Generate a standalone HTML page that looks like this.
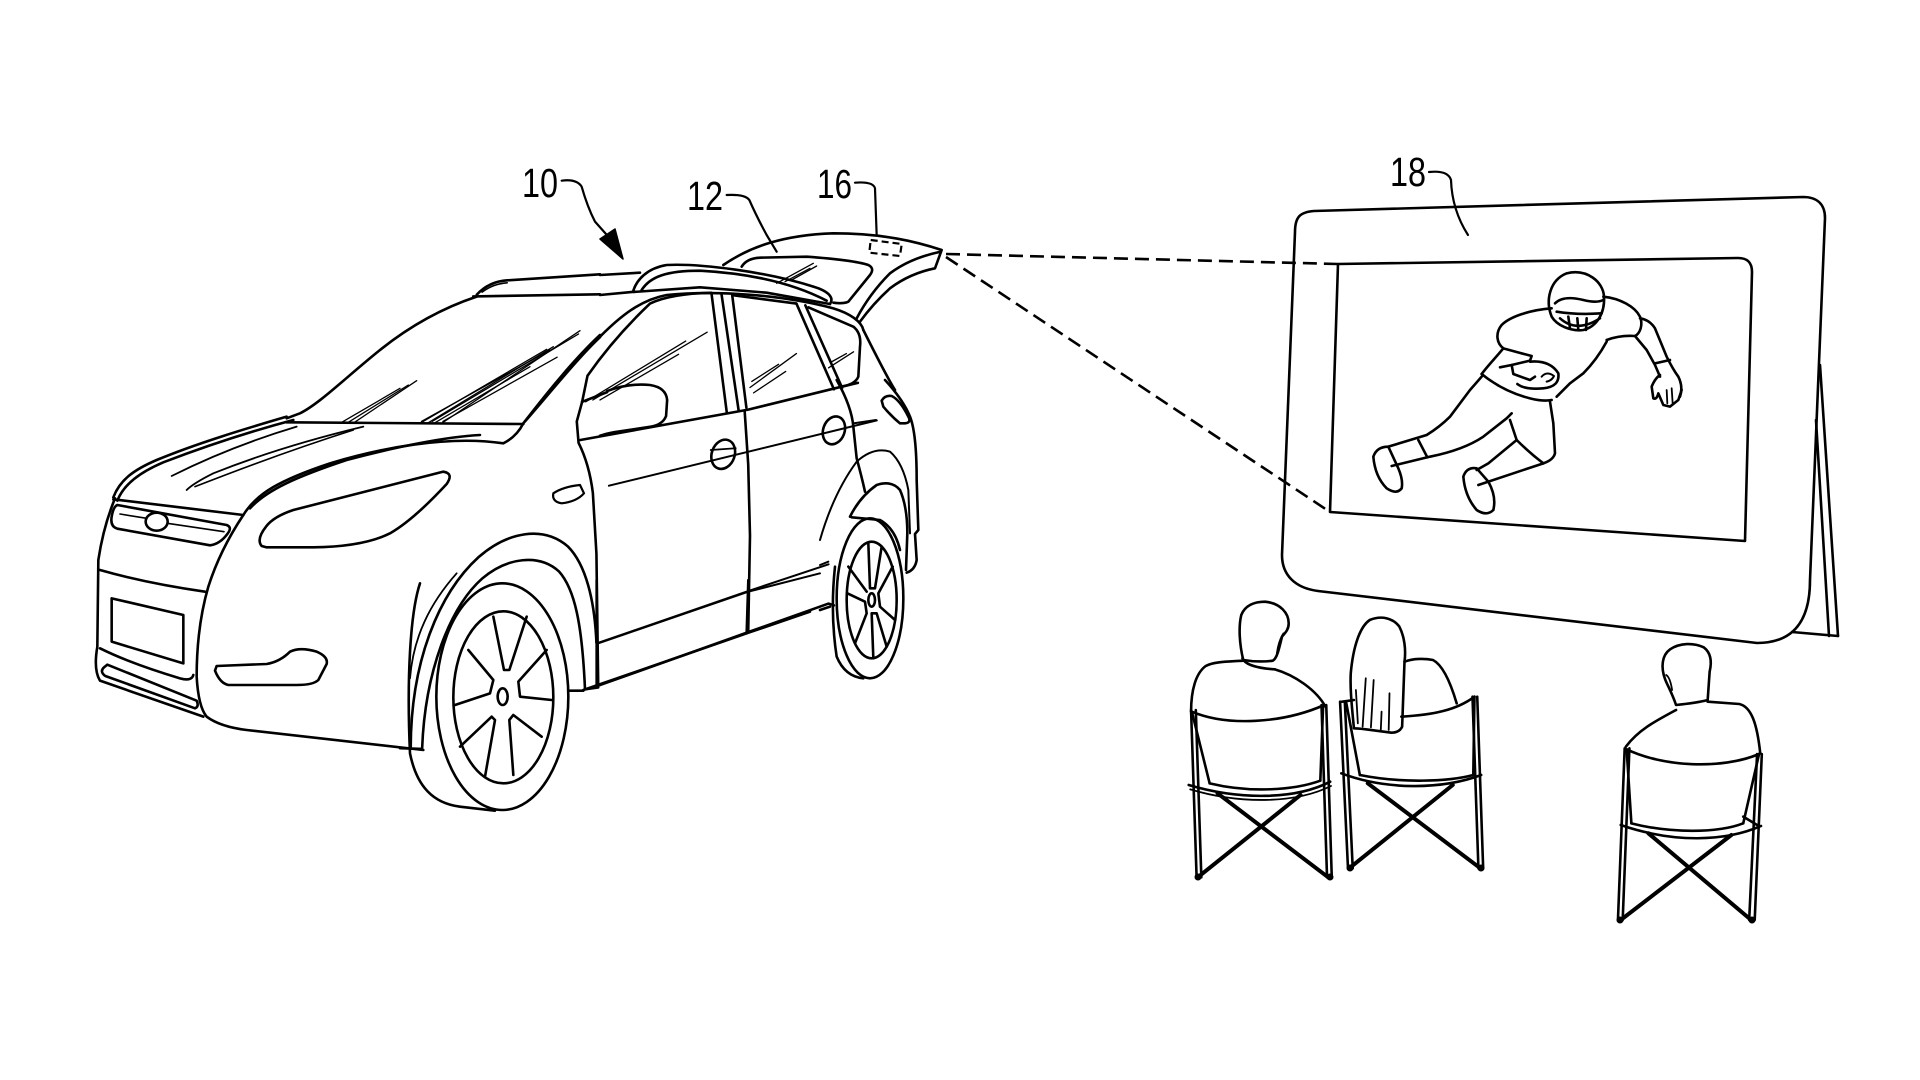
<!DOCTYPE html>
<html><head><meta charset="utf-8"><style>
html,body{margin:0;padding:0;background:#fff;width:1920px;height:1080px;overflow:hidden}
svg{display:block}
path,ellipse,line,polygon,circle,rect{vector-effect:non-scaling-stroke}
text{font-family:"Liberation Sans",sans-serif;fill:#000}
</style></head><body>
<svg width="1920" height="1080" viewBox="0 0 1920 1080" xmlns="http://www.w3.org/2000/svg" fill="none" stroke="#000" stroke-linecap="round" stroke-linejoin="round">

<!-- labels -->
<text x="522" y="197" font-size="41" textLength="36" lengthAdjust="spacingAndGlyphs" stroke="none">10</text>
<text x="687" y="210" font-size="41" textLength="36" lengthAdjust="spacingAndGlyphs" stroke="none">12</text>
<text x="817" y="198" font-size="41" textLength="35" lengthAdjust="spacingAndGlyphs" stroke="none">16</text>
<text x="1390" y="186" font-size="41" textLength="36" lengthAdjust="spacingAndGlyphs" stroke="none">18</text>

<!-- leaders (zoom2 frame) -->
<g transform="translate(480,140) scale(0.33333)" stroke-width="2.2">
  <path d="M245,122 Q290,116 305,140 Q322,200 345,245 L385,290"/>
  <path d="M740,165 Q795,162 808,180 Q830,230 860,285 L890,335"/>
  <path d="M1125,128 Q1180,124 1185,145 L1190,285"/>
</g>
<polygon points="600,239 623,259 615,229" fill="#000" stroke="#000" stroke-width="1.5"/>
<path d="M1429,172 Q1448,170 1451,180 Q1452,210 1468,235" stroke-width="2.2"/>

<!-- dashed projection -->
<g stroke-width="2.6" stroke-dasharray="14 7" stroke-linecap="butt">
  <path d="M946,254 L1338,264"/>
  <path d="M946,257 L1330,512"/>
  <path d="M870.7,240 L901.7,244 L900,256 L869.3,252.7 Z" stroke-width="2.2" stroke-dasharray="7 4"/>
</g>

<!-- ============ CAR FRONT (zoom3 frame) ============ -->
<g transform="translate(80,260) scale(0.33333)" stroke-width="2.6">
  <path d="M1190,110 C1100,140 1000,190 900,270 C800,350 720,430 660,460 L620,475"/>
  <path d="M620,470 C500,505 350,550 230,600 C160,630 120,660 100,712"/>
  <path d="M640,480 C520,512 380,557 250,607 C180,637 132,672 112,722"/>
  <path d="M620,487 L1330,492"/>
  <path d="M1330,490 C1400,400 1480,300 1560,225"/>
  <path d="M275,648 Q450,560 650,500" stroke-width="1.8"/>
  <path d="M320,690 Q340,670 400,640 Q600,560 850,500" stroke-width="1.8"/>
  <path d="M345,680 Q600,580 820,510" stroke-width="1.6"/>
  <path d="M490,765 C530,700 600,660 750,610 C900,565 1100,525 1270,550 Q1310,530 1330,490"/>
  <path d="M510,745 C560,690 650,650 800,600 C950,560 1100,530 1200,525"/>
  <path d="M100,718 L490,765"/>
  <path d="M545,858 Q528,838 558,800 Q580,770 640,750 L1090,635 Q1122,640 1100,672 Q1000,780 930,820 Q850,860 700,862 L560,862 Z"/>
  <path d="M112,735 L440,795 Q458,802 442,822 Q420,852 390,856 L112,806 Q90,800 95,770 Q100,740 112,735 Z"/>
  <path d="M120,762 L200,775" stroke-width="1.6"/>
  <path d="M262,790 L432,815" stroke-width="1.6"/>
  <ellipse cx="230" cy="785" rx="33" ry="27"/>
  <path d="M105,715 Q70,800 55,900 L52,1160 Q40,1230 60,1262 L370,1370"/>
  <path d="M490,765 Q420,870 385,980 Q350,1100 350,1250 Q355,1340 380,1370 Q420,1400 500,1410 L1030,1470"/>
  <path d="M60,930 Q200,970 375,995"/>
  <path d="M95,1015 L310,1065 L310,1210 L95,1145 Z"/>
  <path d="M60,1165 Q150,1210 300,1255 Q335,1265 340,1245"/>
  <path d="M72,1222 Q58,1235 76,1248 L345,1345 Q358,1340 350,1322 L82,1214 Z"/>
  <path d="M410,1218 L560,1212 Q600,1205 630,1175 Q660,1160 710,1175 Q745,1190 740,1212 L715,1260 Q700,1275 650,1275 L445,1275 Q420,1270 405,1232 Z"/>
  <path d="M1420,700 Q1450,680 1500,675 L1512,700 Q1490,725 1445,730 Q1415,725 1420,700 Z" stroke-width="2.2"/>
  <g stroke-width="1.3">
    <path d="M780,490 L960,385"/><path d="M800,490 L985,375"/><path d="M822,488 L1010,362"/>
    <path d="M1020,490 L1400,268"/><path d="M1042,490 L1420,260"/><path d="M1062,490 L1350,320"/><path d="M1082,492 L1500,212"/>
  </g>
  <path d="M990,1255 C1000,1130 1050,1030 1130,940" stroke-width="1.8"/>
</g>

<!-- ============ CAR SIDE (zoom4 frame) ============ -->
<g transform="translate(400,250) scale(0.35714)" stroke-width="2.6">
  <path d="M205,130 L560,124"/>
  <path d="M215,125 Q250,88 300,85 L560,68"/>
  <path d="M230,118 Q260,95 300,92" stroke-width="1.6"/>
  <path d="M350,480 C420,400 500,300 560,244"/>
  <path d="M510,425 L525,352 Q600,245 700,150 Q760,122 870,120"/>
  <path d="M872,120 L915,455"/>
  <path d="M900,122 L948,448"/>
  <path d="M930,125 L970,442"/>
  <path d="M935,127 L1110,150"/>
  <path d="M1110,150 L1215,390"/>
  <path d="M1135,155 L1238,386"/>
  <path d="M505,532 L975,447 L1215,388 L1282,372"/>
  <path d="M580,395 Q640,372 700,378 Q745,385 748,420 L745,465 Q735,490 700,495 L600,510 Q575,515 560,520"/>
  <path d="M510,425 L580,398"/>
  <path d="M510,425 L495,480 L500,540 Q530,600 540,680 L550,850 L555,1220"/>
  <path d="M965,450 L975,600 L980,800 L975,1070"/>
  <ellipse cx="905" cy="572" rx="32" ry="42" transform="rotate(20 905 572)"/>
  <path d="M870,560 L940,555" stroke-width="1.8"/>
  <ellipse cx="1215" cy="505" rx="30" ry="40" transform="rotate(20 1215 505)"/>
  <path d="M585,660 L1335,477" stroke-width="2"/>
  <path d="M555,1100 L975,955 L1200,880" stroke-width="2"/>
  <path d="M555,1220 L975,1070 L1200,990 L1215,995"/>
  <path d="M30,1395 C30,1150 110,960 220,860 C300,790 400,770 470,830 C520,880 545,980 550,1100"/>
  <path d="M62,1395 C70,1180 140,1000 230,920 C300,860 390,850 445,900 C490,950 510,1050 518,1230 L555,1225"/>
  <path d="M0,1395 L62,1397"/>
  <g stroke-width="1.3">
    <path d="M60,480 L420,280"/><path d="M90,480 L500,235"/><path d="M120,480 L440,300"/>
    <path d="M520,425 L800,255"/><path d="M540,420 L860,230"/><path d="M560,420 L780,292"/>
    <path d="M980,385 L1110,290"/><path d="M985,368 L1060,320"/><path d="M990,400 L1080,340"/>
    <path d="M1200,330 L1270,285"/><path d="M1205,315 L1250,290"/>
  </g>
</g>

<!-- ============ ROOF / TAILGATE (zoom8 frame) ============ -->
<g transform="translate(600,230) scale(0.33333)" stroke-width="2.6">
  <path d="M0,135 L120,128"/>
  <path d="M0,195 L105,185"/>
  <path d="M100,182 C110,150 140,115 200,105 C300,100 500,125 640,170 C690,185 702,205 690,222"/>
  <path d="M125,180 C150,140 200,122 300,122 C450,130 580,160 680,212"/>
  <path d="M100,186 L300,172 L500,188 L690,222"/>
  <path d="M0,320 C60,260 120,210 200,195 C350,180 550,195 700,235 C750,250 785,275 790,300"/>
  <path d="M625,232 L760,290 Q785,310 780,350 L775,440 Q765,465 720,470"/>
  <path d="M790,300 C820,360 860,440 885,480"/>
  <path d="M370,105 C450,50 550,15 700,10 C850,10 950,35 1025,60 L1005,115 Q930,130 870,175 Q820,220 780,275"/>
  <path d="M1018,66 Q930,85 870,130 Q810,190 770,265"/>
  <path d="M425,110 Q440,85 480,83 L620,80 Q760,90 805,105 Q825,115 810,135 L745,215 Q730,222 700,218"/>
  <g stroke-width="1.3">
    <path d="M530,160 L640,100"/><path d="M555,155 L630,115"/><path d="M575,150 L650,108"/>
  </g>
</g>

<!-- ============ FRONT WHEEL (zoom7 frame) ============ -->
<g transform="translate(300,580) scale(0.33333)" stroke-width="2.6">
  <path d="M360,10 C330,100 320,300 330,520 C350,620 400,670 480,680 L585,692"/>
  <ellipse cx="607" cy="350" rx="198" ry="340"/>
  <ellipse cx="610" cy="352" rx="150" ry="258"/>
  <ellipse cx="608" cy="350" rx="15" ry="25"/>
  <path d="M580,110 L612,270 L628,270 L680,110"/>
  <path d="M740,210 L655,305 L660,350 L755,360"/>
  <path d="M725,470 L640,405 L628,420 L640,585"/>
  <path d="M555,590 L585,420 L575,410 L480,500"/>
  <path d="M465,375 L570,340 L580,300 L505,210"/>
  <path d="M895,190 L1345,35 L1560,-20" stroke-width="2"/>
  <path d="M890,0 L890,320"/>
  <path d="M1345,0 L1340,160"/>
  <path d="M850,330 L1340,160 L1530,95"/>
  <path d="M810,332 L850,332"/>
</g>

<!-- ============ REAR (zoom12 frame) ============ -->
<g transform="translate(820,380) scale(0.33333)" stroke-width="2.6">
  <path d="M195,0 Q250,60 270,110 Q290,160 290,300 L295,450 L285,462 L290,540 Q285,570 260,578"/>
  <path d="M185,62 Q195,45 215,48 Q240,60 265,110 Q275,128 255,130 L240,130 Q215,110 190,80 Z"/>
  <path d="M50,0 Q95,80 100,140 L110,235 Q125,290 135,335"/>
  <path d="M100,130 L168,120" stroke-width="2"/>
  <path d="M0,480 Q40,340 110,245 Q160,200 210,215 Q250,250 265,330 L270,460" stroke-width="2"/>
  <path d="M90,410 Q120,350 170,315 Q215,300 240,330 Q262,380 262,460 L258,570"/>
  <path d="M95,412 L180,420 Q225,445 240,510"/>
  <path d="M45,560 Q30,700 50,830 Q75,890 130,895"/>
  <ellipse cx="150" cy="655" rx="100" ry="240"/>
  <ellipse cx="155" cy="660" rx="75" ry="175"/>
  <ellipse cx="155" cy="660" rx="10" ry="20"/>
  <path d="M145,490 L150,625 L165,625 L185,500"/>
  <path d="M218,560 L175,640 L180,680 L225,720"/>
  <path d="M200,800 L170,700 L155,700 L160,835"/>
  <path d="M105,790 L140,700 L135,665 L82,640"/>
  <path d="M85,560 L140,635"/>
  <path d="M0,690 L30,680"/>
  <path d="M0,555 L25,545" stroke-width="2"/>
</g>

<!-- ============ SCREEN ============ -->
<g stroke-width="2.6">
  <path d="M1295,232 C1295,217 1300,212 1314,211 L1803,197 C1818,197 1825,205 1825,218 L1810,580 C1810,625 1790,643 1757,643 L1318,591 C1295,588 1282,575 1282,555 Z"/>
  <path d="M1338,264 L1738,258 C1748,258 1752,263 1752,272 L1745,541 L1330,512 Z"/>
  <path d="M1820,365 L1838,636"/>
  <path d="M1816,420 L1829,636"/>
  <path d="M1792,632 L1838,636"/>
</g>

<!-- player (zoom9 frame) -->
<g transform="translate(1330,250) scale(0.33333)" stroke-width="2.6">
  <path d="M665,200 C645,150 660,90 710,70 C770,55 820,95 822,140 C825,190 800,230 760,240 C720,245 680,225 665,200 Z"/>
  <path d="M675,160 Q700,135 760,150 Q800,160 820,150"/>
  <path d="M680,185 Q740,195 815,190"/>
  <path d="M715,200 L720,235 M742,205 L745,240 M770,205 L768,240"/>
  <path d="M690,205 Q740,250 810,205"/>
  <path d="M665,175 C600,180 540,200 515,225 C495,250 500,280 520,295 L575,310"/>
  <path d="M820,140 C870,145 915,170 930,200 C940,225 930,250 915,258"/>
  <path d="M930,205 Q960,210 975,235 L1010,320 Q1030,360 1045,380 Q1060,410 1050,440"/>
  <path d="M830,270 Q870,255 915,258 L950,300 L975,345 L990,380"/>
  <path d="M975,340 L1020,330"/>
  <path d="M990,375 Q975,385 965,410 L970,445 Q980,450 985,430 L1000,465 L1020,470 L1045,450 L1055,420"/>
  <path d="M1010,420 L1012,460 M1025,415 L1028,460" stroke-width="1.8"/>
  <path d="M830,275 Q800,330 760,370 L720,400 L680,440"/>
  <path d="M520,295 C500,320 475,345 455,372"/>
  <path d="M575,310 L605,318 L600,332 L545,345 L510,352"/>
  <path d="M545,345 L550,372 L600,390 L615,380"/>
  <path d="M600,335 Q660,330 685,370 Q690,410 640,415 Q585,420 562,402"/>
  <path d="M635,380 Q650,362 672,378 M650,395 Q665,392 672,378" stroke-width="2"/>
  <path d="M455,372 Q520,425 600,445 Q640,455 665,450"/>
  <path d="M455,380 L420,420 L360,500 Q330,530 290,555 L175,590"/>
  <path d="M545,490 L530,505 L460,560 Q400,600 300,620 L185,648"/>
  <path d="M265,570 L292,622"/>
  <path d="M175,590 Q140,590 130,620 Q135,680 170,715 Q200,735 215,715 Q220,690 205,655 Z"/>
  <path d="M660,455 L670,520 L675,610 Q670,630 640,640 L445,705"/>
  <path d="M540,510 L560,570 L475,640 L440,660"/>
  <path d="M560,570 Q600,610 640,640"/>
  <path d="M440,655 Q410,650 400,680 Q405,740 440,780 Q470,800 490,780 Q500,740 475,695 Z"/>
</g>

<!-- ============ PEOPLE (zoom6 frame) ============ -->
<g transform="translate(1180,590) scale(0.39526,0.33333)" stroke-width="2.6">
  <path d="M160,210 C150,160 148,110 155,75 C165,45 190,35 215,35 C255,40 275,70 275,100 C275,120 265,130 258,140 C250,180 245,205 235,212 C210,216 180,214 160,210 Z"/>
  <path d="M262,130 Q250,150 245,190" stroke-width="1.8"/>
  <path d="M158,205 C165,225 200,235 240,238"/>
  <path d="M28,365 C28,300 40,250 65,228 C85,215 120,215 160,212"/>
  <path d="M240,238 C290,255 345,300 368,350"/>
  <path d="M30,365 C120,410 260,400 365,345"/>
  <path d="M30,365 L75,580"/>
  <path d="M362,350 L355,572"/>
  <path d="M75,580 C180,610 290,600 355,572"/>
  <path d="M22,585 C150,630 290,630 380,575"/>
  <path d="M26,598 C150,642 290,642 382,588" stroke-width="1.8"/>
  <path d="M28,360 L42,862 M40,360 L54,862"/>
  <path d="M358,345 L372,862 M370,345 L384,862"/>
  <path d="M95,610 L375,862" stroke-width="4"/>
  <path d="M305,615 L45,862" stroke-width="4"/>
  <path d="M440,415 C435,350 430,300 432,250 C438,170 455,110 480,90 C510,75 540,85 555,110 C568,140 572,180 568,215 L562,410 Q555,428 535,428 L470,418 Q448,415 440,415 Z"/>
  <path d="M445,300 L450,400 M470,265 L462,410 M490,270 L483,412 M510,365 L508,420 M530,310 L528,420" stroke-width="1.8"/>
  <path d="M568,215 C590,205 620,205 640,210 C665,225 685,280 700,340"/>
  <path d="M560,380 C640,375 700,360 745,320"/>
  <path d="M410,335 L440,330"/>
  <path d="M420,335 L455,555"/>
  <path d="M745,320 L742,555"/>
  <path d="M455,555 C560,580 680,575 742,555"/>
  <path d="M408,550 C520,600 660,600 762,555"/>
  <path d="M405,335 L425,835 M417,335 L437,835"/>
  <path d="M740,320 L755,835 M752,320 L767,835"/>
  <path d="M475,580 L760,835" stroke-width="4"/>
  <path d="M690,585 L428,835" stroke-width="4"/>
  <path d="M1255,345 C1245,310 1235,290 1228,270 C1215,230 1220,195 1240,178 C1265,158 1300,158 1325,172 C1345,190 1345,220 1340,245 L1335,330 C1310,338 1280,342 1255,345 Z"/>
  <path d="M1230,255 Q1240,262 1245,300" stroke-width="1.8"/>
  <path d="M1128,470 C1160,420 1200,395 1255,360"/>
  <path d="M1335,335 L1415,342 C1445,350 1460,400 1468,490"/>
  <path d="M1130,478 C1220,530 1370,540 1465,492"/>
  <path d="M1130,478 L1142,700"/>
  <path d="M1465,492 L1425,700"/>
  <path d="M1142,700 C1240,730 1360,730 1425,700"/>
  <path d="M1115,705 C1250,760 1380,755 1470,708"/>
  <path d="M1125,475 L1108,990 M1137,475 L1120,990"/>
  <path d="M1460,492 L1440,990 M1472,492 L1454,990"/>
  <path d="M1185,730 L1445,990" stroke-width="4"/>
  <path d="M1395,735 L1115,990" stroke-width="4"/>
  <path d="M1425,680 L1460,705"/>
</g>
<!-- feet dots -->
<g fill="#000" stroke="none">
  <circle cx="1198" cy="877" r="3.5"/><circle cx="1330" cy="877" r="3.5"/>
  <circle cx="1350" cy="868" r="3.5"/><circle cx="1481" cy="868" r="3.5"/>
  <circle cx="1620" cy="920" r="3.5"/><circle cx="1752" cy="920" r="3.5"/>
</g>
</svg>
</body></html>
